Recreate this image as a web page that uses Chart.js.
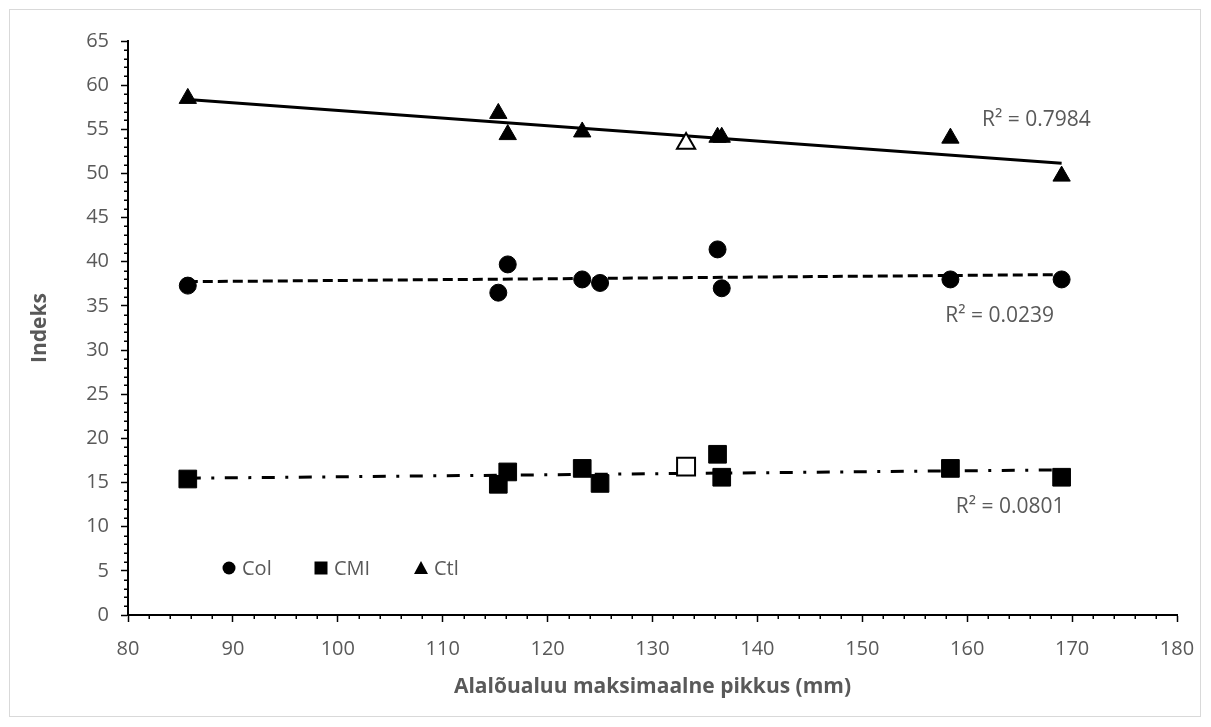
<!DOCTYPE html>
<html>
<head>
<meta charset="utf-8">
<script src="https://cdn.jsdelivr.net/npm/chart.js"></script>
<style>
  html, body { margin: 0; padding: 0; background: #fff; }
</style>
</head>
<body>
<canvas id="myChart" width="1211" height="727"></canvas>
<script>
window.addEventListener("load", joonis)

// alalõualuu maksimaalne pikkus (mm)
const pikkus = [85.7, 115.3, 116.2, 123.3, 125.0, 136.2, 136.6, 158.4, 169.0];
// indeksid samade isendite kohta (null = puudub)
const colIndeks = [37.3, 36.5, 39.7, 38.0, 37.6, 41.4, 37.0, 38.0, 38.0];
const cmiIndeks = [15.4, 14.8, 16.2, 16.6, 14.9, 18.2, 15.6, 16.6, 15.6];
const ctlIndeks = [58.5, 56.8, 54.4, 54.7, null, 54.1, 54.1, 54.0, 49.7];
// trendist välja jäetud isend (tühi märk)
const valjaPikkus = [133.2];
const valjaCmi = [16.8];
const valjaCtl = [53.4];

const xPiirid = [80, 180, 10];
const yPiirid = [0, 65, 5];
const r2Tekstid = ['R² = 0.0239', 'R² = 0.0801', 'R² = 0.7984'];

const FONT = '"Open Sans"';
const HALL = '#595959';

function punktid(xs, ys) {
  return xs.map((x, i) => ({x: x, y: ys[i]})).filter(p => p.y !== null);
}

// lineaarne trend (vähimruutude meetod), joon min x .. max x
function trend(xs, ys) {
  const p = punktid(xs, ys);
  const n = p.length;
  const mx = p.reduce((s, q) => s + q.x, 0) / n;
  const my = p.reduce((s, q) => s + q.y, 0) / n;
  let sxy = 0, sxx = 0;
  p.forEach(q => { sxy += (q.x - mx) * (q.y - my); sxx += (q.x - mx) * (q.x - mx); });
  const b = sxy / sxx;
  const a = my - b * mx;
  const x0 = Math.min(...p.map(q => q.x));
  const x1 = Math.max(...p.map(q => q.x));
  return [{x: x0, y: a + b * x0}, {x: x1, y: a + b * x1}];
}

// R² siltide asukohad teljeväärtustes
const r2Kohad = [{x: 163.1, y: 33.9}, {x: 164.1, y: 12.2}, {x: 166.6, y: 56.1}];

const lisad = {
  id: 'lisad',
  afterDraw(chart) {
    const ctx = chart.ctx;
    const sx = chart.scales.x, sy = chart.scales.y;
    const a = chart.chartArea;
    ctx.save();
    // raam
    ctx.strokeStyle = '#d9d9d9';
    ctx.lineWidth = 1;
    ctx.strokeRect(9.5, 9.5, 1191, 707);
    // väikesed jaotised
    ctx.strokeStyle = '#000';
    ctx.lineWidth = 1.5;
    ctx.beginPath();
    for (let v = yPiirid[0]; v <= yPiirid[1]; v++) {
      if (v % yPiirid[2]) {
        const py = Math.round(sy.getPixelForValue(v)) + 0.25;
        ctx.moveTo(a.left - 4, py); ctx.lineTo(a.left, py);
      }
    }
    for (let v = xPiirid[0]; v <= xPiirid[1]; v += 2) {
      if (v % xPiirid[2]) {
        const px = Math.round(sx.getPixelForValue(v)) + 0.25;
        ctx.moveTo(px, a.bottom); ctx.lineTo(px, a.bottom + 4);
      }
    }
    ctx.stroke();
    // R² tekstid
    ctx.fillStyle = HALL;
    ctx.font = '21px ' + FONT;
    ctx.textAlign = 'center';
    ctx.textBaseline = 'middle';
    r2Tekstid.forEach((t, i) => {
      ctx.fillText(t, sx.getPixelForValue(r2Kohad[i].x), sy.getPixelForValue(r2Kohad[i].y));
    });
    // legend
    const ly = a.bottom - 47;
    const lx = [101, 193, 293];
    ctx.font = '20px ' + FONT;
    ctx.textAlign = 'left';
    [0, 1, 2].forEach(i => {
      const ds = chart.data.datasets[i];
      const cx = a.left + lx[i];
      ctx.fillStyle = '#000';
      ctx.beginPath();
      if (ds.pointStyle === 'circle') {
        ctx.arc(cx, ly, 6.5, 0, Math.PI * 2);
      } else if (ds.pointStyle === 'rect') {
        ctx.rect(cx - 6.5, ly - 6.5, 13, 13);
      } else {
        ctx.moveTo(cx, ly - 7); ctx.lineTo(cx + 7, ly + 6); ctx.lineTo(cx - 7, ly + 6); ctx.closePath();
      }
      ctx.fill();
      ctx.fillStyle = HALL;
      ctx.fillText(ds.label, cx + 13, ly + 1);
    });
    ctx.restore();
  }
};

function joonis() {
  Chart.defaults.font.family = FONT;
  Chart.defaults.color = HALL;

  const datasets = [
    {
      label: 'Col',
      data: punktid(pikkus, colIndeks),
      pointStyle: 'circle',
      pointRadius: 8.5,
      backgroundColor: '#000',
      borderColor: '#000',
      borderWidth: 1
    },
    {
      label: 'CMI',
      data: punktid(pikkus, cmiIndeks),
      pointStyle: 'rect',
      pointRadius: 12.5,
      backgroundColor: '#000',
      borderColor: '#000',
      borderWidth: 1
    },
    {
      label: 'Ctl',
      data: punktid(pikkus, ctlIndeks),
      pointStyle: 'triangle',
      pointRadius: 10,
      backgroundColor: '#000',
      borderColor: '#000',
      borderWidth: 1
    },
    {
      label: 'CMI välja jäetud',
      data: punktid(valjaPikkus, valjaCmi),
      pointStyle: 'rect',
      pointRadius: 12.7,
      backgroundColor: '#fff',
      borderColor: '#000',
      borderWidth: 2
    },
    {
      label: 'Ctl välja jäetud',
      data: punktid(valjaPikkus, valjaCtl),
      pointStyle: 'triangle',
      pointRadius: 10.5,
      backgroundColor: '#fff',
      borderColor: '#000',
      borderWidth: 2
    },
    {
      label: 'Col trend',
      data: trend(pikkus, colIndeks),
      showLine: true,
      pointRadius: 0,
      borderColor: '#000',
      borderWidth: 3,
      borderDash: [10, 5]
    },
    {
      label: 'CMI trend',
      data: trend(pikkus, cmiIndeks),
      showLine: true,
      pointRadius: 0,
      borderColor: '#000',
      borderWidth: 3,
      borderDash: [13, 10.5, 3, 10.5]
    },
    {
      label: 'Ctl trend',
      data: trend(pikkus, ctlIndeks),
      showLine: true,
      pointRadius: 0,
      borderColor: '#000',
      borderWidth: 3
    }
  ];

  const config = {
    type: 'scatter',
    data: {datasets: datasets},
    options: {
      responsive: false,
      animation: false,
      events: [],
      layout: {padding: {top: 41, right: 34, bottom: 0, left: 0}},
      plugins: {
        legend: {display: false},
        tooltip: {enabled: false}
      },
      scales: {
        x: {
          type: 'linear',
          min: xPiirid[0],
          max: xPiirid[1],
          afterFit: s => { s.height = 112; },
          ticks: {stepSize: xPiirid[2], padding: 15, maxRotation: 0, autoSkip: false,
                  font: {size: 20}, color: HALL},
          grid: {display: true, drawOnChartArea: false, drawTicks: true, tickLength: 7,
                 tickWidth: 1.5, tickColor: '#000'},
          border: {display: true, color: '#000', width: 2},
          title: {display: true, text: 'Alalõualuu maksimaalne pikkus (mm)',
                  font: {size: 21, weight: 'bold'}, color: HALL, padding: {top: 0, bottom: 27}}
        },
        y: {
          type: 'linear',
          min: yPiirid[0],
          max: yPiirid[1],
          afterFit: s => { s.width = 128; },
          ticks: {stepSize: yPiirid[2], padding: 12, font: {size: 20}, color: HALL},
          grid: {display: true, drawOnChartArea: false, drawTicks: true, tickLength: 7,
                 tickWidth: 1.5, tickColor: '#000'},
          border: {display: true, color: '#000', width: 2},
          title: {display: true, text: 'Indeks',
                  font: {size: 21, weight: 'bold'}, color: HALL, padding: {top: 27, bottom: 0}}
        }
      }
    },
    plugins: [lisad]
  };

  const myChart = new Chart(document.getElementById('myChart'), config);
}
</script>
</body>
</html>
